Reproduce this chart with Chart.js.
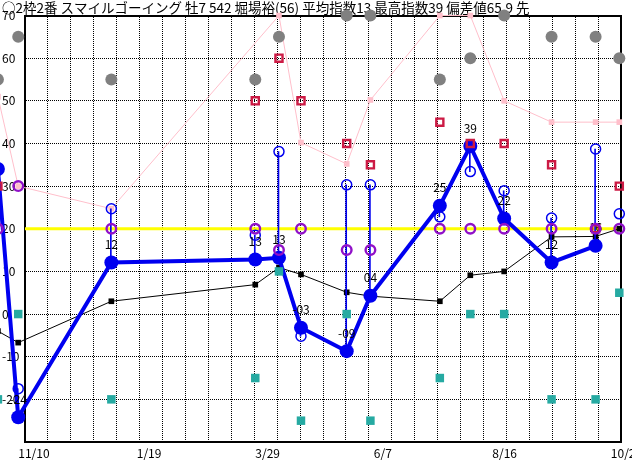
<!DOCTYPE html>
<html>
<head>
<meta charset="utf-8">
<script src="https://cdn.jsdelivr.net/npm/chart.js@4"></script>
<style>
  html, body { margin: 0; padding: 0; background: #fff; }
  #wrap { width: 632px; height: 460px; }
</style>
</head>
<body>
<div id="wrap"><canvas id="idxChart"></canvas></div>
<script>
  // Race dates as days counted from 11/10; the first entry is the race before, just off the left edge
  const raceDays = [-12, 0, 55, 140, 154, 167, 194, 208, 249, 267, 287, 315, 341, 355];

  // Speed index per race (thick blue), last race not run yet
  const mainIndex = [34, -24.2, 12.1, 12.8, 13.2, -3.2, -8.7, 4.3, 25.4, 39.4, 22.4, 12.1, 16.0, null];
  // Hollow blue circles
  const upperIndex = [null, -17.5, 24.7, 18.5, 38.1, -5.2, 30.3, 30.3, 22.8, 33.4, 28.9, 22.5, 38.7, 23.5];
  // Black line
  const avgIndex = [-4, -6.7, 3.0, 6.9, 10.9, 9.3, 5.1, 4.2, 3.0, 9.1, 10.0, 18.1, 18.2, 20.0];
  // Pink line
  const topIndex = [51, 30, 24.7, null, 70, 40.2, 35.2, 50.2, 70, 70, 50, 45, 45, 45];
  // Purple circles
  const paceIndex = [20, 30, 20, 20, 15, 20, 15, 15, 20, 20, 20, 20, 20, 20];
  // Red squares
  const lastIndex = [30, null, null, 50, 60, 50, 40, 35, 45, 40, 40, 35, 20, 30];
  // Teal squares
  const lowIndex = [-20, 0, -20, -15, 10, -25, 0, -25, -15, 0, 0, -20, -20, 5];
  // Gray dots
  const rankIndex = [55, 65, 55, 55, 65, null, 70, 70, 55, 60, 70, 65, 65, 60];

  const baseLine = 20;

  const dateTicks = [0, 70, 140, 210, 280, 350];
  const dateLabels = ['11/10', '1/19', '3/29', '6/7', '8/16', '10/25'];

  const xMin = 4, xMax = 356;
  const yMin = -30, yMax = 70;
  const gridColumns = 26;

  const chartTitle = '○2枠2番 スマイルゴーイング 牡7 542 堀場裕(56) 平均指数13 最高指数39 偏差値65.9 先';

  function points(values) {
    return raceDays.map((d, i) => ({ x: d, y: values[i] }));
  }

  // thin blue range line between hollow circle and index point
  const rangeBars = [];
  raceDays.forEach((d, i) => {
    if (upperIndex[i] != null && mainIndex[i] != null) {
      rangeBars.push({ x: d, y: [upperIndex[i], mainIndex[i]] });
    }
  });

  // "-03", "04", "39" style labels above each index point
  function fmtIndex(v) {
    var r = Math.round(v);
    var s = String(Math.abs(r));
    if (s.length < 2) s = '0' + s;
    return r < 0 ? '-' + s : s;
  }

  const pointLabels = {
    id: 'pointLabels',
    afterDatasetDraw(chart, args) {
      if (chart.data.datasets[args.index].label !== 'index') return;
      const ctx = chart.ctx;
      ctx.save();
      ctx.font = '12px "Noto Sans CJK JP", sans-serif';
      ctx.fillStyle = '#000';
      ctx.textAlign = 'center';
      ctx.textBaseline = 'middle';
      args.meta.data.forEach((pt, i) => {
        if (mainIndex[i] == null || raceDays[i] < 0) return;
        ctx.fillText(fmtIndex(mainIndex[i]), pt.x, pt.y - 18);
      });
      ctx.restore();
    }
  };

  // markers sit on or past the frame edge; let Chart.js draw them there too
  const drawOutside = {
    id: 'drawOutside',
    beforeDatasetsDraw(chart) {
      chart._frameArea = chart.chartArea;
      chart.chartArea = { left: -40, top: -40, right: chart.width + 40, bottom: chart.height + 40,
                          width: chart.width + 80, height: chart.height + 80 };
    },
    afterDatasetsDraw(chart) {
      chart.chartArea = chart._frameArea;
    }
  };

  // fix the day range without options.min/max, so the race before the left edge is still joined by the lines
  function dayRange(s) {
    s.min = xMin;
    s.max = xMax;
  }

  Chart.defaults.font.family = '"Noto Sans CJK JP", sans-serif';
  Chart.defaults.color = '#000';

  const blue = '#0000f0';

  new Chart(document.getElementById('idxChart'), {
    type: 'line',
    data: {
      datasets: [
        {
          label: 'rank', data: points(rankIndex), showLine: false,
          pointRadius: 6, pointBackgroundColor: '#808080', pointBorderWidth: 0,
          order: 1, clip: false
        },
        {
          label: 'pace', data: points(paceIndex), showLine: false,
          pointRadius: 4.8, pointBorderWidth: 2.4, pointBorderColor: '#9010c8',
          pointBackgroundColor: 'rgba(0,0,0,0)', order: 2, clip: false
        },
        {
          label: 'last', data: points(lastIndex), showLine: false, pointStyle: 'rect',
          pointRadius: 5, pointBorderWidth: 2.4, pointBorderColor: '#cc1a44',
          pointBackgroundColor: 'rgba(0,0,0,0)', order: 3, clip: false
        },
        {
          label: 'low', data: points(lowIndex), showLine: false, pointStyle: 'rect',
          pointRadius: 6, pointBorderWidth: 0, pointBackgroundColor: '#26aaa2',
          order: 4, clip: false
        },
        {
          label: 'index', data: points(mainIndex), borderColor: blue, borderWidth: 4,
          pointRadius: 7, pointBackgroundColor: blue, pointBorderWidth: 0,
          tension: 0, order: 5, clip: false
        },
        {
          label: 'upper', data: points(upperIndex), showLine: false,
          pointRadius: 5, pointBorderWidth: 1.5, pointBorderColor: blue,
          pointBackgroundColor: 'rgba(0,0,0,0)', order: 6, clip: false
        },
        {
          type: 'bar', label: 'range', data: rangeBars, barThickness: 1,
          backgroundColor: blue, borderWidth: 0, order: 7, clip: false
        },
        {
          label: 'avg', data: points(avgIndex), borderColor: '#000', borderWidth: 1,
          pointStyle: 'rect', pointRadius: 4, pointBackgroundColor: '#000', pointBorderWidth: 0,
          order: 8, clip: false
        },
        {
          label: 'top', data: points(topIndex), borderColor: '#ffbfcb', borderWidth: 1, spanGaps: true,
          pointStyle: 'rect', pointRadius: 4, pointBackgroundColor: '#ffbfcb', pointBorderWidth: 0,
          order: 9, clip: false
        },
        {
          label: 'base', xAxisID: 'xg', data: [{ x: xMin, y: baseLine }, { x: xMax, y: baseLine }],
          borderColor: '#ffff00', borderWidth: 3, pointRadius: 0, order: 10
        }
      ]
    },
    options: {
      responsive: true,
      maintainAspectRatio: false,
      devicePixelRatio: 1,
      animation: false,
      layout: { padding: { left: 2, right: 11, top: 0, bottom: 0 } },
      plugins: {
        legend: { display: false },
        tooltip: { enabled: false },
        title: {
          display: true, text: chartTitle, align: 'start', color: '#000',
          font: { size: 13.5, weight: 'normal', lineHeight: 1.15 }, padding: 0
        }
      },
      scales: {
        x: {
          type: 'linear', bounds: 'data', offset: false,
          afterDataLimits: dayRange,
          afterBuildTicks: s => { s.ticks = dateTicks.map(v => ({ value: v })); },
          ticks: {
            autoSkip: false, align: 'start', maxRotation: 0, padding: 4,
            font: { size: 12 },
            callback: (v, i) => dateLabels[i]
          },
          grid: { display: false, drawTicks: false, offset: false },
          border: { display: true, color: '#000', width: 2 },
          afterFit: s => { s.height = 18; s.paddingLeft = 0; s.paddingRight = 0; }
        },
        xg: {
          type: 'linear', position: 'top', bounds: 'data', offset: false,
          afterDataLimits: dayRange,
          afterBuildTicks: s => {
            const t = [];
            for (let k = 0; k <= gridColumns; k++) t.push({ value: xMin + k * (xMax - xMin) / gridColumns });
            s.ticks = t;
          },
          ticks: { display: true, autoSkip: false, maxTicksLimit: 40, maxRotation: 0, padding: 0, callback: () => '' },
          grid: { display: true, drawOnChartArea: true, color: '#000', lineWidth: 1, drawTicks: false, offset: false },
          border: { display: true, color: '#000', width: 2, dash: [1, 1] },
          afterFit: s => { s.height = 0; s.paddingLeft = 0; s.paddingRight = 0; }
        },
        y: {
          min: yMin, max: yMax,
          ticks: {
            stepSize: 10, crossAlign: 'far', padding: 0, font: { size: 12 },
            callback: v => (v === yMin ? '' : v)
          },
          grid: { display: true, drawOnChartArea: true, color: '#000', lineWidth: 1, drawTicks: false },
          border: { display: true, color: '#000', width: 2, dash: [1, 1] },
          afterFit: s => { s.width = 23; }
        },
        yr: {
          position: 'right', min: yMin, max: yMax,
          ticks: { display: false },
          grid: { display: false, drawTicks: false },
          border: { display: true, color: '#000', width: 2 },
          afterFit: s => { s.width = 0; }
        }
      }
    },
    plugins: [pointLabels, drawOutside]
  });
</script>
</body>
</html>
